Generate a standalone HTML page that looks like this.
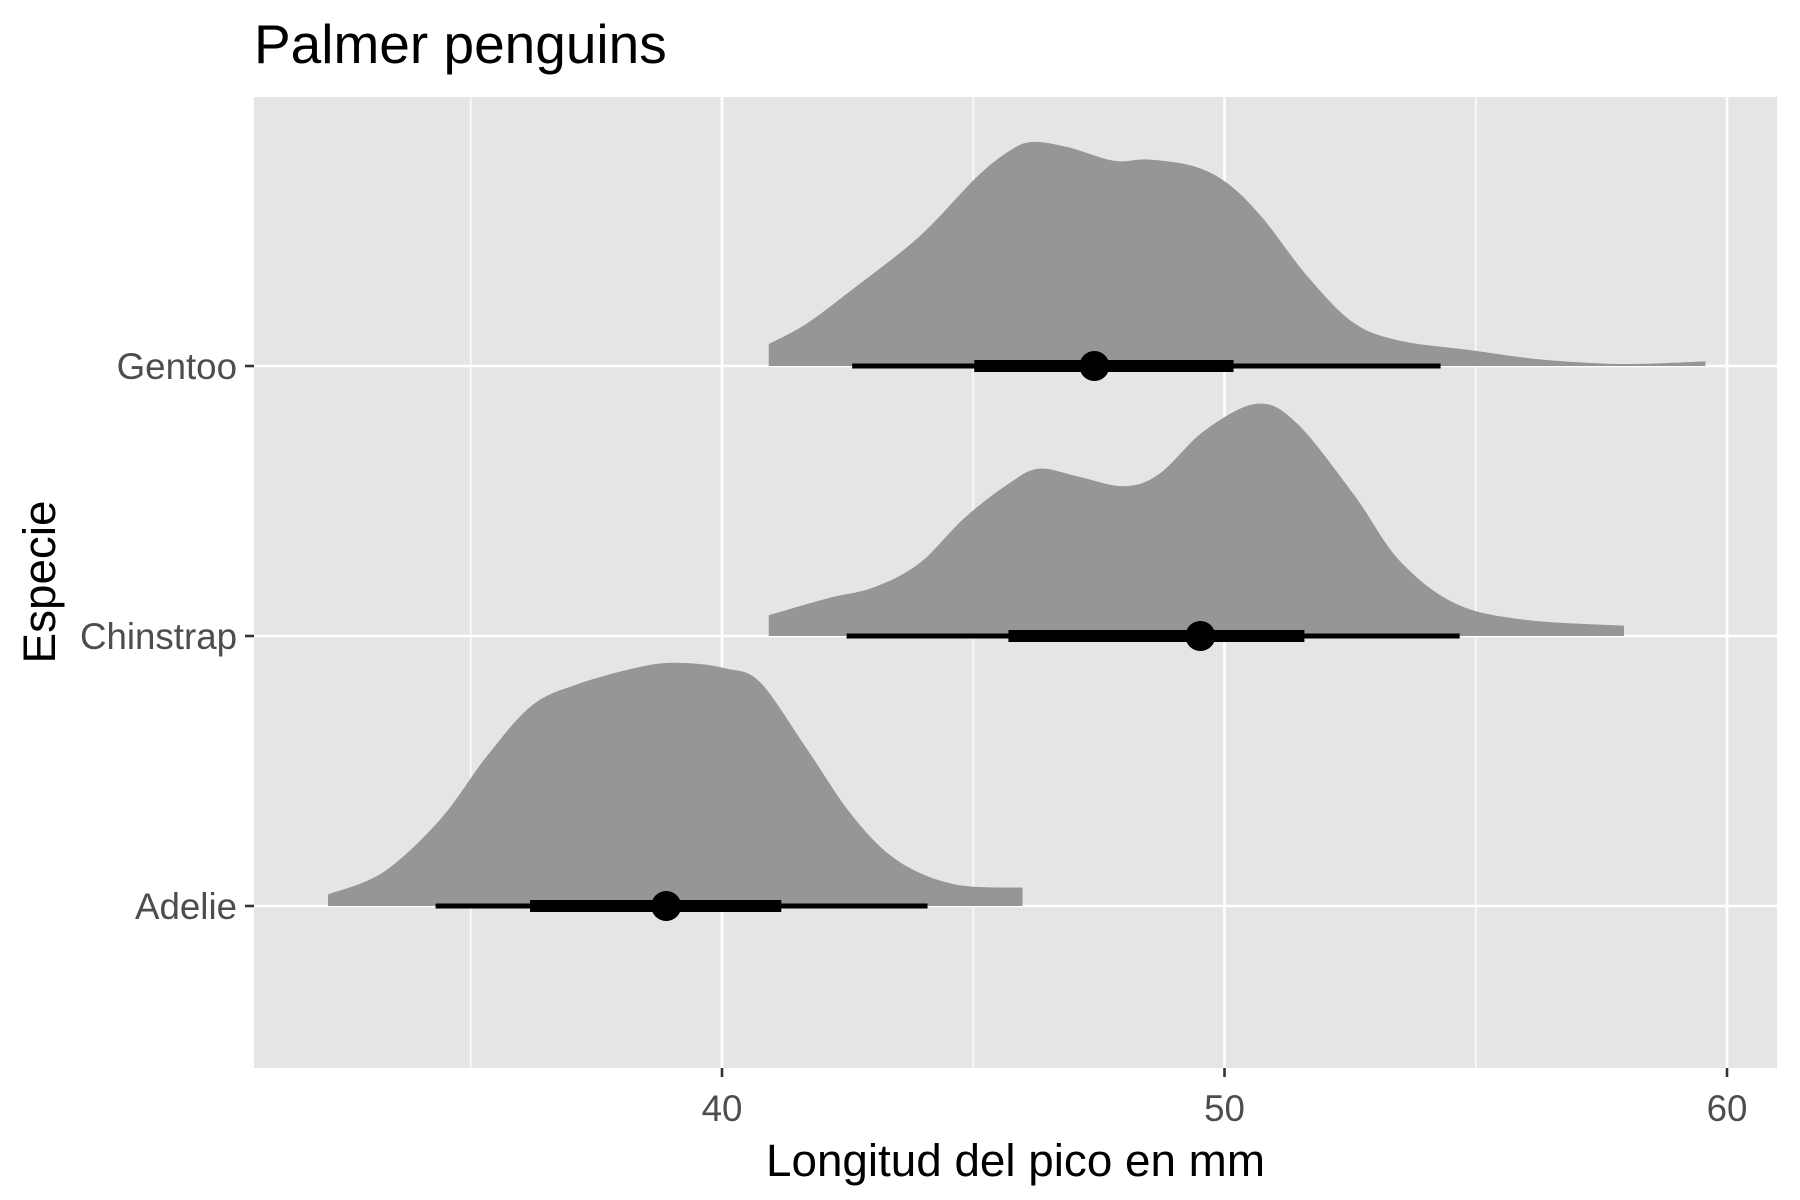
<!DOCTYPE html>
<html><head><meta charset="utf-8"><style>
html,body{margin:0;padding:0;background:#fff;}
svg{display:block;font-family:"Liberation Sans",Arial,sans-serif;}
</style></head><body>
<svg id="chart" width="1800" height="1200" viewBox="0 0 1800 1200">
<rect x="0" y="0" width="1800" height="1200" fill="#fff"/>
<text x="254" y="63" font-size="55" fill="#000">Palmer penguins</text>
<rect x="254" y="97" width="1523" height="971" fill="#e5e5e5"/>
<g id="grid"></g>
<g id="marks"></g>
<g id="axes"></g>
<text x="1015.5" y="1176" font-size="45.8" text-anchor="middle" fill="#000">Longitud del pico en mm</text>
<text transform="translate(55,582) rotate(-90)" font-size="45.8" text-anchor="middle" fill="#000">Especie</text>
</svg>
<script>
const categories = ["Adelie","Chinstrap","Gentoo"];
const xTicks = [40,50,60];
const xMinor = [35,45,55];
const adelieX = [32.16,33.25,34.39,35.3,36.2,37.1,38.48,39.27,40.07,40.75,41.66,42.57,43.48,44.61,45.98];
const adelieD = [0.043,0.124,0.32,0.55,0.74,0.82,0.89,0.90,0.88,0.83,0.59,0.34,0.17,0.081,0.068];
const chinX = [40.93,42.11,43.02,43.93,44.84,45.75,46.32,47.1,48.0,48.7,49.6,50.64,51.43,52.57,53.48,54.6,55.98,57.95];
const chinD = [0.077,0.14,0.18,0.27,0.44,0.57,0.62,0.59,0.555,0.60,0.76,0.86,0.79,0.525,0.28,0.12,0.06,0.038];
const gentX = [40.93,41.66,42.57,43.93,45.07,45.75,46.2,46.89,47.8,48.48,49.39,50.07,50.75,51.66,52.57,53.48,54.84,56.2,57.57,58.48,59.57];
const gentD = [0.081,0.154,0.28,0.48,0.70,0.80,0.83,0.81,0.76,0.765,0.74,0.675,0.55,0.33,0.16,0.094,0.06,0.026,0.009,0.009,0.017];
const pointVals = [38.89,49.52,47.41];
const innerLo = [36.18,45.7,45.02];
const innerHi = [41.18,51.59,50.18];
const outerLo = [34.3,42.48,42.59];
const outerHi = [44.09,54.68,54.3];

const NS="http://www.w3.org/2000/svg";
const x = v => 722 + (v-40)*50.25;
const yc = i => 906 - i*270;
const dh = d => d*270;
function mk(tag, attrs, parent){const e=document.createElementNS(NS,tag);for(const k in attrs)e.setAttribute(k,attrs[k]);parent.appendChild(e);return e;}
const grid=document.getElementById('grid'), marks=document.getElementById('marks'), axes=document.getElementById('axes');

xMinor.forEach(v=>{
  const l=mk('line',{x1:x(v),x2:x(v),y1:97,y2:1068,stroke:'#fff','stroke-width':1.3},grid);
  
  
});
xTicks.forEach(v=>{
  const l=mk('line',{x1:x(v),x2:x(v),y1:97,y2:1068,stroke:'#fff','stroke-width':2.6},grid);
  
  
  const t=mk('line',{x1:x(v),x2:x(v),y1:1068,y2:1077,stroke:'#333','stroke-width':2.6},axes);
  
  
  const tx=mk('text',{x:x(v),y:1121,'font-size':36.7,'text-anchor':'middle',fill:'#4d4d4d'},axes);
  tx.textContent=v;
  
  
});
categories.forEach((c,i)=>{
  const l=mk('line',{x1:254,x2:1777,y1:yc(i),y2:yc(i),stroke:'#fff','stroke-width':2.6},grid);
  
  
  const t=mk('line',{x1:245,x2:254,y1:yc(i),y2:yc(i),stroke:'#333','stroke-width':2.6},axes);
  
  
  const tx=mk('text',{x:237,y:yc(i)+13,'font-size':36.7,'text-anchor':'end',fill:'#4d4d4d'},axes);
  tx.textContent=c;
  
  
});

function densPath(xs, ds, i){
  const base=yc(i);
  const P=xs.map((v,k)=>[x(v), base-dh(ds[k])]);
  let d=`M${P[0][0]},${base} L${P[0][0]},${P[0][1]}`;
  for(let k=0;k<P.length-1;k++){
    const p0=P[Math.max(k-1,0)],p1=P[k],p2=P[k+1],p3=P[Math.min(k+2,P.length-1)];
    const c1=[p1[0]+(p2[0]-p0[0])/6,p1[1]+(p2[1]-p0[1])/6];
    const c2=[p2[0]-(p3[0]-p1[0])/6,p2[1]-(p3[1]-p1[1])/6];
    d+=` C${c1[0]},${c1[1]} ${c2[0]},${c2[1]} ${p2[0]},${p2[1]}`;
  }
  d+=` L${P[P.length-1][0]},${base} Z`;
  return d;
}
const dens=[[adelieX,adelieD],[chinX,chinD],[gentX,gentD]];
dens.forEach((s,i)=>{
  const p=mk('path',{d:densPath(s[0],s[1],i),fill:'#969696'},marks);
  
  
});
categories.forEach((c,i)=>{
  const o=mk('line',{x1:x(outerLo[i]),x2:x(outerHi[i]),y1:yc(i),y2:yc(i),stroke:'#000','stroke-width':5},marks);
  
  
  const n=mk('line',{x1:x(innerLo[i]),x2:x(innerHi[i]),y1:yc(i),y2:yc(i),stroke:'#000','stroke-width':12},marks);
  
  
  const pt=mk('circle',{cx:x(pointVals[i]),cy:yc(i),r:15,fill:'#000'},marks);
  
  
});
</script>
</body></html>
